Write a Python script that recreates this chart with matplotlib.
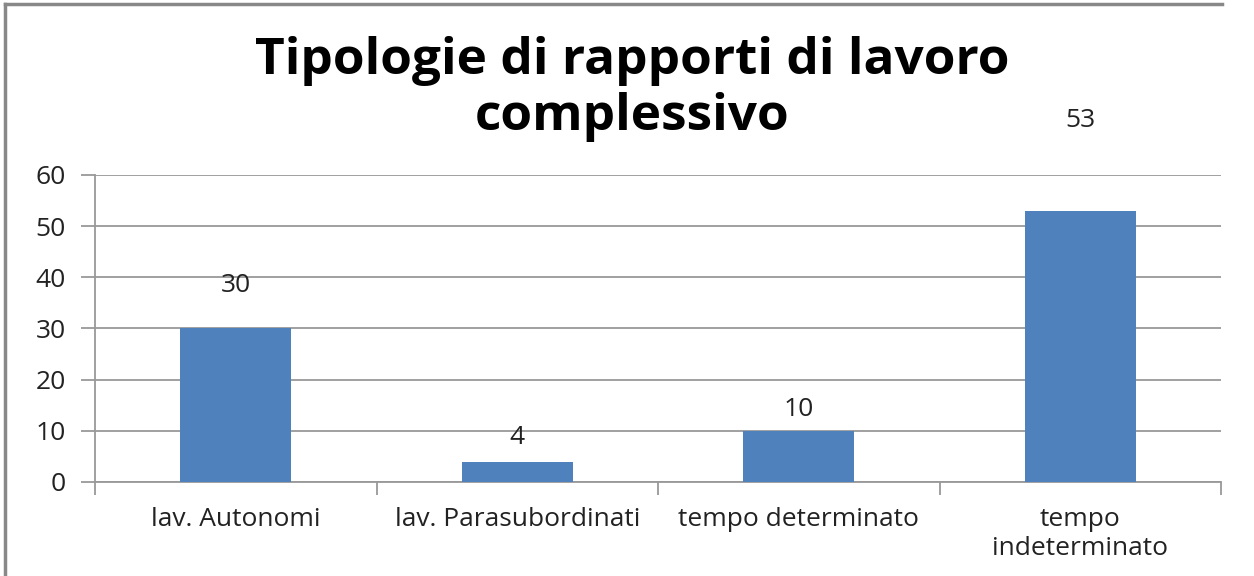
import matplotlib
matplotlib.use("Agg")
import matplotlib.pyplot as plt
from matplotlib.lines import Line2D

categories = ['lav. Autonomi', 'lav. Parasubordinati', 'tempo determinato', 'tempo\nindeterminato']
values = [30, 4, 10, 53]
# where the value labels sit (data units)
label_y = [38.5, 8.6, 14.1, 70.7]

plt.rcParams['font.family'] = ['Open Sans', 'DejaVu Sans']

fig = plt.figure(figsize=(12.54, 5.76), dpi=100)
ax = fig.add_axes([0.0758, 0.1632, 0.898, 0.533])

x = range(len(categories))
ax.bar(x, values, width=0.395, color='#4f81bd', zorder=3)

for i, v in enumerate(values):
    ax.text(i, label_y[i], str(v), ha='center', va='center', fontsize=19,
            color='#222222', clip_on=False)

ax.set_xlim(-0.5, len(categories) - 0.5)
ax.set_ylim(0, 60)
ax.set_yticks(range(0, 61, 10))
ax.set_xticks([i - 0.5 for i in range(len(categories) + 1)], minor=False)
ax.set_xticklabels([])
ax.set_xticks(list(x), minor=True)
ax.set_xticklabels(categories, minor=True, fontsize=19, color='#222222', linespacing=1.22)
ax.tick_params(axis='x', which='minor', length=0, pad=18)
ax.tick_params(axis='x', which='major', length=9, width=1.3, color='#999999', direction='out')
ax.tick_params(axis='y', length=10, width=1.3, color='#999999', labelsize=19,
               labelcolor='#222222', pad=11)
ax.yaxis.grid(True, color='#999999', linewidth=1.3, zorder=0)

for s in ['top', 'right']:
    ax.spines[s].set_visible(False)
for s in ['left', 'bottom']:
    ax.spines[s].set_color('#999999')
    ax.spines[s].set_linewidth(1.3)

fig.text(0.504, 0.846, 'Tipologie di rapporti di lavoro\ncomplessivo', ha='center', va='center',
         fontsize=37, fontweight='bold', linespacing=1.16)

# outer frame (top and left only visible)
fig.add_artist(Line2D([5 / 1254, 5 / 1254], [0, 1 - 4 / 576], transform=fig.transFigure,
                      color='#888888', linewidth=2.5))
fig.add_artist(Line2D([5 / 1254, 1222 / 1254], [1 - 4 / 576, 1 - 4 / 576], transform=fig.transFigure,
                      color='#888888', linewidth=2.5))

fig.savefig('out.png', dpi=100)
